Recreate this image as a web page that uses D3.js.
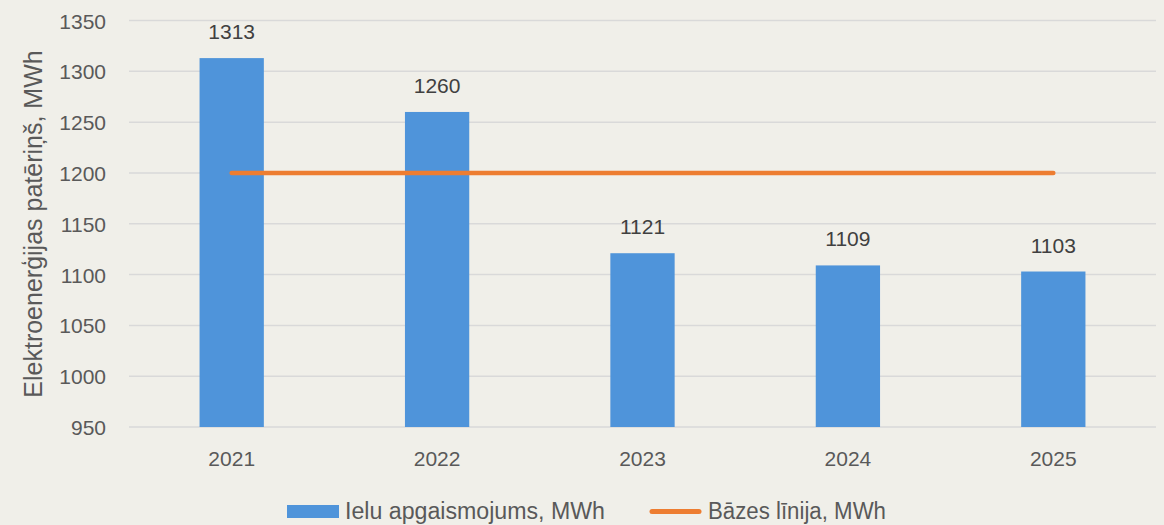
<!DOCTYPE html>
<html><head><meta charset="utf-8">
<script src="https://cdn.jsdelivr.net/npm/d3@7"></script>
<style>
html,body{margin:0;padding:0;background:#F0EFE9;}
svg{display:block;font-family:"Liberation Sans",Arial,sans-serif;}
</style></head>
<body><svg id="c" width="1164" height="525"></svg>
<script>
const categories = ["2021","2022","2023","2024","2025"];
const streetLighting = [1313,1260,1121,1109,1103];
const baseline = [1200,1200,1200,1200,1200];
const yTicks = [950,1000,1050,1100,1150,1200,1250,1300,1350];
const seriesNames = ["Ielu apgaismojums, MWh","Bāzes līnija, MWh"];
const yTitle = "Elektroenerģijas patēriņš, MWh";

const svg = d3.select("#c");
const L = 129, R = 1156, T = 20.5, B = 427;
const x = d3.scaleBand().domain(categories).range([L,R]).paddingInner(0.687).paddingOuter(0.3435);
const y = d3.scaleLinear().domain([950,1350]).range([B,T]);

svg.append("rect").attr("width",1164).attr("height",525).attr("fill","#F0EFE9");

svg.append("g").selectAll("line").data(yTicks).join("line")
  .attr("x1",L).attr("x2",R).attr("y1",d=>y(d)).attr("y2",d=>y(d))
  .attr("stroke","#D9D9D9").attr("stroke-width",1.5);

const yAxis = svg.append("g").attr("transform",`translate(${L-23},0)`)
  .call(d3.axisLeft(y).tickValues(yTicks).tickFormat(d3.format("d")).tickSize(0).tickPadding(0));
yAxis.select(".domain").remove();
yAxis.selectAll("text").attr("font-size",21).attr("fill","#595959").attr("font-family","Liberation Sans, Arial, sans-serif").attr("dy","0.36em");

const xAxis = svg.append("g").attr("transform",`translate(0,${B})`)
  .call(d3.axisBottom(x).tickSize(0).tickPadding(0));
xAxis.select(".domain").remove();
xAxis.selectAll("text").attr("font-size",21).attr("fill","#595959").attr("font-family","Liberation Sans, Arial, sans-serif")
  .attr("dy",null).attr("y",39);

svg.append("g").selectAll("text").data(streetLighting).join("text")
  .attr("x",(d,i)=>x(categories[i])+x.bandwidth()/2).attr("y",d=>y(d)-19)
  .attr("text-anchor","middle").attr("font-size",21).attr("fill","#404040").text(d=>d);

svg.append("g").selectAll("rect").data(streetLighting).join("rect")
  .attr("x",(d,i)=>x(categories[i])).attr("width",x.bandwidth())
  .attr("y",d=>y(d)).attr("height",d=>B-y(d)).attr("fill","#4F94DA");

const line = d3.line().x((d,i)=>x(categories[i])+x.bandwidth()/2).y(d=>y(d));
svg.append("path").datum(baseline).attr("d",line).attr("fill","none")
  .attr("stroke","#ED7D31").attr("stroke-width",4.5).attr("stroke-linecap","round");

svg.append("text").attr("transform",`translate(42,224) rotate(-90)`).attr("text-anchor","middle")
  .attr("font-size",25).attr("fill","#595959").text(yTitle);

const lg = svg.append("g").attr("font-family","'Liberation Sans Narrow', 'Liberation Sans', sans-serif");
lg.append("rect").attr("x",287).attr("y",505).attr("width",52).attr("height",13).attr("fill","#4F94DA");
lg.append("text").attr("x",345).attr("y",519).attr("font-size",23).attr("fill","#595959")
  .attr("textLength",260).attr("lengthAdjust","spacingAndGlyphs").text(seriesNames[0]);
lg.append("line").attr("x1",652).attr("x2",699).attr("y1",511.5).attr("y2",511.5)
  .attr("stroke","#ED7D31").attr("stroke-width",5).attr("stroke-linecap","round");
lg.append("text").attr("x",708).attr("y",519).attr("font-size",23).attr("fill","#595959")
  .attr("textLength",178).attr("lengthAdjust","spacingAndGlyphs").text(seriesNames[1]);
</script></body></html>
